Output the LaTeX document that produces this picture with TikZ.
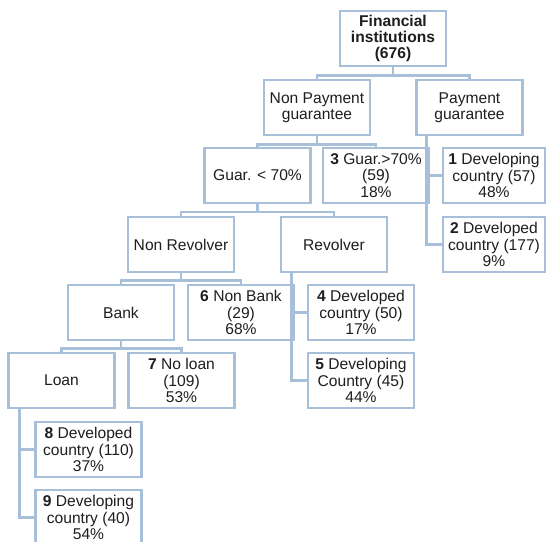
\documentclass[tikz,border=0pt]{standalone}
\usepackage{fontspec}
\setmainfont{Liberation Sans}
\definecolor{boxline}{RGB}{167,191,216}
\definecolor{txt}{RGB}{30,30,30}
\begin{document}
\begin{tikzpicture}[x=1pt,y=-1pt,
  box/.style={draw=boxline,line width=2.5pt,fill=white,minimum width=106pt,minimum height=55pt,
    inner sep=0pt,align=center,text=txt,font=\fontsize{15.6}{16.3}\selectfont},
  wbox/.style={box,minimum width=102pt},
  conn/.style={draw=boxline,line width=2.5pt}]
\useasboundingbox (0,0) rectangle (546,541);
\clip (0,0) rectangle (546,541);
\fill[white] (0,0) rectangle (546,541);
% nodes
\node[box] (root) at (393,38.5) {\textbf{Financial}\\\textbf{institutions}\\\textbf{(676)}};
\node[box] (np) at (317,107.5) {Non Payment\\guarantee};
\node[box] (p) at (469.5,107.5) {Payment\\guarantee};
\node[box] (g1) at (257.5,175.5) {Guar. < 70\%};
\node[box] (g3) at (376,175.5) {\textbf{3} Guar.>70\%\\(59)\\18\%};
\node[wbox] (b1) at (494,175.5) {\textbf{1} Developing\\country (57)\\48\%};
\node[wbox] (b2) at (494,244.5) {\textbf{2} Developed\\country (177)\\9\%};
\node[box] (nr) at (181,244.5) {Non Revolver};
\node[box] (rv) at (334,244.5) {Revolver};
\node[box] (bank) at (121,312.5) {Bank};
\node[box] (b6) at (241,312.5) {\textbf{6} Non Bank\\(29)\\68\%};
\node[box] (b4) at (361,312.5) {\textbf{4} Developed\\country (50)\\17\%};
\node[box] (b5) at (361,380.5) {\textbf{5} Developing\\Country (45)\\44\%};
\node[box] (loan) at (61.5,380.5) {Loan};
\node[box] (b7) at (181.5,380.5) {\textbf{7} No loan\\(109)\\53\%};
\node[box] (b8) at (88.5,449.5) {\textbf{8} Developed\\country (110)\\37\%};
\node[box] (b9) at (88.5,517.5) {\textbf{9} Developing\\country (40)\\54\%};
% connectors
\begin{scope}[on background layer/.style={}]
\draw[conn] (root.south) -- ++(0,8) -| (np.north);
\draw[conn] (root.south) -- ++(0,8) -| (p.north);
\draw[conn] (np.south) -- ++(0,8) -| (g1.north);
\draw[conn] (np.south) -- ++(0,8) -| (g3.north);
\draw[conn] ([xshift=11pt]p.south west) |- (b1.west);
\draw[conn] ([xshift=11pt]p.south west) |- (b2.west);
\draw[conn] (g1.south) -- ++(0,7.5) -| (nr.north);
\draw[conn] (g1.south) -- ++(0,7.5) -| (rv.north);
\draw[conn] (nr.south) -- ++(0,7) -| (bank.north);
\draw[conn] (nr.south) -- ++(0,7) -| (b6.north);
\draw[conn] ([xshift=11.5pt]rv.south west) |- (b4.west);
\draw[conn] ([xshift=11.5pt]rv.south west) |- (b5.west);
\draw[conn] (bank.south) -- ++(0,7) -| (loan.north);
\draw[conn] (bank.south) -- ++(0,7) -| (b7.north);
\draw[conn] ([xshift=12pt]loan.south west) |- (b8.west);
\draw[conn] ([xshift=12pt]loan.south west) |- (b9.west);
\end{scope}
\end{tikzpicture}
\end{document}
